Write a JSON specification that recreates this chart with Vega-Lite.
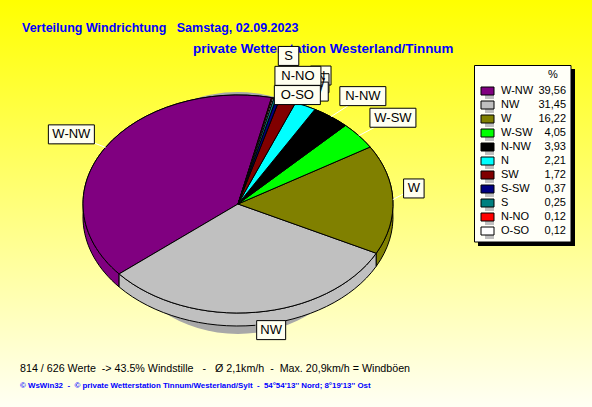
{
"$schema":"https://vega.github.io/schema/vega-lite/v6.json",
"width":592,"height":407,"padding":0,"autosize":"none","background":"#FFFFF0",
"config":{"view":{"stroke":null},"text":{"font":"Liberation Sans"}},
"data":{"values":[
{"dir":"W-NW","pct":39.56,"ord":11},
{"dir":"NW","pct":31.45,"ord":10},
{"dir":"W","pct":16.22,"ord":9},
{"dir":"W-SW","pct":4.05,"ord":8},
{"dir":"N-NW","pct":3.93,"ord":7},
{"dir":"N","pct":2.21,"ord":6},
{"dir":"SW","pct":1.72,"ord":5},
{"dir":"S-SW","pct":0.37,"ord":4},
{"dir":"S","pct":0.25,"ord":3},
{"dir":"N-NO","pct":0.12,"ord":1},
{"dir":"O-SO","pct":0.12,"ord":2}
]},
"transform":[
{"stack":"pct","groupby":[],"sort":[{"field":"ord"}],"offset":"normalize","as":["p0","p1"]},
{"calculate":"12.5*PI/180+datum.p0*2*PI","as":"a0"},
{"calculate":"12.5*PI/180+datum.p1*2*PI","as":"a1"},
{"calculate":"(datum.a0+datum.a1)/2","as":"mid"},
{"calculate":"round(155*sin(datum.a0)*100)/100","as":"x0"},
{"calculate":"round(-109*cos(datum.a0)*100)/100","as":"y0"},
{"calculate":"round(155*sin(datum.a1)*100)/100","as":"x1"},
{"calculate":"round(-109*cos(datum.a1)*100)/100","as":"y1"},
{"calculate":"(datum.a1-datum.a0)>PI?1:0","as":"large"},
{"calculate":"'M0,0L'+datum.x0+','+datum.y0+'A155,109 0 '+datum.large+' 1 '+datum.x1+','+datum.y1+'Z'","as":"facePath"},
{"calculate":"'M'+datum.x0+','+datum.y0+'A155,109 0 '+datum.large+' 1 '+datum.x1+','+datum.y1+'L'+datum.x1+','+(datum.y1+13)+'A155,109 0 '+datum.large+' 0 '+datum.x0+','+(datum.y0+13)+'Z'","as":"rimPath"},
{"calculate":"{'W-NW':0,'NW':11,'W':-19,'W-SW':3,'N-NW':8,'N':-2,'SW':14,'S-SW':17,'S':4,'N-NO':17,'O-SO':15}[datum.dir]","as":"nx"},
{"calculate":"{'W-NW':1,'NW':-9,'W':-10,'W-SW':-1,'N-NW':1,'N':-6,'SW':8,'S-SW':19,'S':-16,'N-NO':4.5,'O-SO':23.5}[datum.dir]","as":"ny"},
{"calculate":"238+195*sin(datum.mid)+datum.nx","as":"lx"},
{"calculate":"204-136*cos(datum.mid)+datum.ny","as":"ly"},
{"calculate":"6+4.25*length(datum.dir)","as":"hw"},
{"calculate":"datum.lx-datum.hw","as":"bx0"},
{"calculate":"datum.lx+datum.hw","as":"bx1"},
{"calculate":"datum.ly-9.5","as":"by0"},
{"calculate":"datum.ly+9.5","as":"by1"},
{"calculate":"238+155*sin(datum.mid)","as":"ex"},
{"calculate":"204-109*cos(datum.mid)+(cos(datum.mid)<0?13:0)","as":"ey"},
{"calculate":"replace(format(datum.pct,'.2f'),'.',',')","as":"pctText"}
],
"layer":[
{"data":{"values":[{"a":1}]},"mark":{"type":"rect","color":{"gradient":"linear","x1":0,"y1":0,"x2":0,"y2":1,"stops":[{"offset":0,"color":"#FFFF00"},{"offset":1,"color":"#FFFFF4"}]}},"encoding":{"x":{"value":0},"x2":{"value":592},"y":{"value":0},"y2":{"value":407}}},
{"data":{"values":[{"t":"Verteilung Windrichtung\u00a0\u00a0\u00a0Samstag, 02.09.2023"}]},"mark":{"type":"text","align":"left","baseline":"middle","fontWeight":"bold","fontSize":12.5,"color":"#0000FF"},"encoding":{"text":{"field":"t"},"x":{"value":22},"y":{"value":28}}},
{"data":{"values":[{"t":"private Wetterstation Westerland/Tinnum"}]},"mark":{"type":"text","align":"left","baseline":"middle","fontWeight":"bold","fontSize":13.4,"color":"#0000FF"},"encoding":{"text":{"field":"t"},"x":{"value":193},"y":{"value":49}}},
{"data":{"values":[{"t":"814 / 626 Werte\u00a0\u00a0-> 43.5% Windstille\u00a0\u00a0\u00a0-\u00a0\u00a0\u00a0Ø 2,1km/h\u00a0\u00a0-\u00a0\u00a0Max. 20,9km/h = Windböen"}]},"mark":{"type":"text","align":"left","baseline":"middle","fontSize":10.7,"color":"#000000"},"encoding":{"text":{"field":"t"},"x":{"value":20},"y":{"value":369}}},
{"data":{"values":[{"t":"© WsWin32\u00a0\u00a0-\u00a0\u00a0© private Wetterstation Tinnum/Westerland/Sylt\u00a0\u00a0-\u00a0\u00a054°54'13'' Nord; 8°19'13'' Ost"}]},"mark":{"type":"text","align":"left","baseline":"middle","fontSize":7.9,"fontWeight":"bold","color":"#0000FF"},"encoding":{"text":{"field":"t"},"x":{"value":20},"y":{"value":386}}},
{"data":{"values":[{"a":1}]},"mark":{"type":"point","filled":true,"opacity":1,"color":"#A8A8A8","shape":"M-130,9A130,121 0 1 1 130,9A130,121 0 1 1 -130,9Z","size":4},"encoding":{"x":{"value":238},"y":{"value":204}}},
{"mark":{"type":"point","filled":true,"opacity":1,"stroke":"#000000","strokeWidth":1,"size":4},"encoding":{"x":{"value":238},"y":{"value":204},"shape":{"field":"rimPath","type":"nominal","scale":null},"fill":{"field":"dir","type":"nominal","legend":null,"scale":{"domain":["W-NW","NW","W","W-SW","N-NW","N","SW","S-SW","S","N-NO","O-SO"],"range":["#800080","#C0C0C0","#808000","#00FF00","#000000","#00FFFF","#800000","#000080","#008080","#FF0000","#FFFFFF"]}}}},
{"mark":{"type":"point","filled":true,"opacity":1,"stroke":"#000000","strokeWidth":1,"size":4},"encoding":{"x":{"value":238},"y":{"value":204},"shape":{"field":"facePath","type":"nominal","scale":null},"fill":{"field":"dir","type":"nominal","legend":null}}},
{"transform":[{"filter":"indexof(['W-NW','NW','W','W-SW','N-NW'],datum.dir)>=0"}],"mark":{"type":"rule","color":"#FFFFFF","strokeWidth":1},"encoding":{"x":{"field":"ex","type":"quantitative","scale":null},"y":{"field":"ey","type":"quantitative","scale":null},"x2":{"field":"lx"},"y2":{"field":"ly"}}},
{"data":{"values":[{"a":1}]},"mark":{"type":"rect","color":"#000000"},"encoding":{"x":{"value":478},"x2":{"value":575},"y":{"value":69},"y2":{"value":246}}},
{"data":{"values":[{"a":1}]},"mark":{"type":"rect","fill":"#FFFFF8","stroke":"#000000","strokeWidth":1},"encoding":{"x":{"value":474.5},"x2":{"value":571},"y":{"value":65.5},"y2":{"value":242}}},
{"data":{"values":[{"t":"%"}]},"mark":{"type":"text","fontSize":11,"baseline":"middle","color":"#000000"},"encoding":{"text":{"field":"t"},"x":{"value":553},"y":{"value":75}}},
{"mark":{"type":"rect","color":"#C0C0C0","height":8,"xOffset":4,"yOffset":4},"encoding":{"x":{"value":481},"x2":{"value":494},"y":{"field":"dir","type":"nominal","axis":null,"scale":{"type":"point","padding":0,"domain":["W-NW","NW","W","W-SW","N-NW","N","SW","S-SW","S","N-NO","O-SO"],"range":[91,231]}}}},
{"mark":{"type":"rect","stroke":"#000000","strokeWidth":1,"height":8},"encoding":{"x":{"value":481},"x2":{"value":494},"y":{"field":"dir","type":"nominal","axis":null},"fill":{"field":"dir","type":"nominal","legend":null}}},
{"mark":{"type":"text","align":"left","baseline":"middle","fontSize":11,"color":"#000000"},"encoding":{"x":{"value":501},"y":{"field":"dir","type":"nominal","axis":null},"text":{"field":"dir"}}},
{"mark":{"type":"text","align":"right","baseline":"middle","fontSize":11,"color":"#000000"},"encoding":{"x":{"value":566},"y":{"field":"dir","type":"nominal","axis":null},"text":{"field":"pctText"}}},
{"transform":[{"filter":"indexof(['S','N-NO','O-SO'],datum.dir)<0"}],"layer":[
{"mark":{"type":"rect","color":"#808080","xOffset":4,"yOffset":4},"encoding":{"x":{"field":"bx0","type":"quantitative","scale":null},"x2":{"field":"bx1"},"y":{"field":"by0","type":"quantitative","scale":null},"y2":{"field":"by1"}}},
{"mark":{"type":"rect","fill":"#FFFFF0","stroke":"#000000","strokeWidth":1},"encoding":{"x":{"field":"bx0","type":"quantitative","scale":null},"x2":{"field":"bx1"},"y":{"field":"by0","type":"quantitative","scale":null},"y2":{"field":"by1"}}},
{"mark":{"type":"text","fontSize":13,"baseline":"middle","color":"#000000"},"encoding":{"x":{"field":"lx","type":"quantitative","scale":null},"y":{"field":"ly","type":"quantitative","scale":null},"text":{"field":"dir"}}}
]},
{"transform":[{"filter":"datum.dir==='S'"}],"layer":[
{"mark":{"type":"rect","color":"#808080","xOffset":4,"yOffset":4},"encoding":{"x":{"field":"bx0","type":"quantitative","scale":null},"x2":{"field":"bx1"},"y":{"field":"by0","type":"quantitative","scale":null},"y2":{"field":"by1"}}},
{"mark":{"type":"rect","fill":"#FFFFF0","stroke":"#000000","strokeWidth":1},"encoding":{"x":{"field":"bx0","type":"quantitative","scale":null},"x2":{"field":"bx1"},"y":{"field":"by0","type":"quantitative","scale":null},"y2":{"field":"by1"}}},
{"mark":{"type":"text","fontSize":13,"baseline":"middle","color":"#000000"},"encoding":{"x":{"field":"lx","type":"quantitative","scale":null},"y":{"field":"ly","type":"quantitative","scale":null},"text":{"field":"dir"}}}
]},
{"transform":[{"filter":"datum.dir==='N-NO'"}],"layer":[
{"mark":{"type":"rect","color":"#808080","xOffset":4,"yOffset":4},"encoding":{"x":{"field":"bx0","type":"quantitative","scale":null},"x2":{"field":"bx1"},"y":{"field":"by0","type":"quantitative","scale":null},"y2":{"field":"by1"}}},
{"mark":{"type":"rect","fill":"#FFFFF0","stroke":"#000000","strokeWidth":1},"encoding":{"x":{"field":"bx0","type":"quantitative","scale":null},"x2":{"field":"bx1"},"y":{"field":"by0","type":"quantitative","scale":null},"y2":{"field":"by1"}}},
{"mark":{"type":"text","fontSize":13,"baseline":"middle","color":"#000000"},"encoding":{"x":{"field":"lx","type":"quantitative","scale":null},"y":{"field":"ly","type":"quantitative","scale":null},"text":{"field":"dir"}}}
]},
{"transform":[{"filter":"datum.dir==='O-SO'"}],"layer":[
{"mark":{"type":"rect","color":"#808080","xOffset":4,"yOffset":4},"encoding":{"x":{"field":"bx0","type":"quantitative","scale":null},"x2":{"field":"bx1"},"y":{"field":"by0","type":"quantitative","scale":null},"y2":{"field":"by1"}}},
{"mark":{"type":"rect","fill":"#FFFFF0","stroke":"#000000","strokeWidth":1},"encoding":{"x":{"field":"bx0","type":"quantitative","scale":null},"x2":{"field":"bx1"},"y":{"field":"by0","type":"quantitative","scale":null},"y2":{"field":"by1"}}},
{"mark":{"type":"text","fontSize":13,"baseline":"middle","color":"#000000"},"encoding":{"x":{"field":"lx","type":"quantitative","scale":null},"y":{"field":"ly","type":"quantitative","scale":null},"text":{"field":"dir"}}}
]}
]
}
